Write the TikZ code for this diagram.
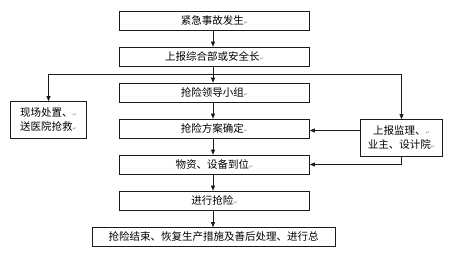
\documentclass[tikz,border=0pt]{standalone}
\usepackage{fontspec}
\usepackage{xcolor}
\usetikzlibrary{arrows.meta,positioning,calc}
\setmainfont{Noto Sans CJK SC}
\newfontfamily\symfont{DejaVu Sans}
\definecolor{ink}{HTML}{1A1A1A}
\definecolor{markgray}{HTML}{8A8A8A}
\newcommand{\pmark}{{\symfont\fontsize{5}{6}\selectfont\textcolor{markgray}{↵}}}
\tikzset{
    every picture/.style={line join=miter},
    flowbox/.style={draw=ink,line width=0.7pt,minimum height=19pt,
      inner sep=1pt,font=\fontsize{10.5}{14}\selectfont,align=center},
    sidebox/.style={flowbox,minimum height=37pt},
    flowarrow/.style={-{Triangle[length=5pt,width=4pt]},draw=ink,
      line width=0.7pt}
}

\begin{document}
\begin{tikzpicture}[x=1pt,y=-1pt]
  \useasboundingbox (0,0) rectangle (450,253);
  % main chain
  \node[flowbox,minimum width=190pt] (start)   at (214.5,20.5)  {紧急事故发生\pmark};
  \node[flowbox,minimum width=190pt] (report)  at (214.5,56.5)  {上报综合部或安全长\pmark};
  \node[flowbox,minimum width=190pt] (lead)    at (214.5,92.5)  {抢险领导小组\pmark};
  \node[flowbox,minimum width=190pt] (plan)    at (214.5,128.5) {抢险方案确定\pmark};
  \node[flowbox,minimum width=190pt] (supply)  at (214.5,164.5) {物资、设备到位\pmark};
  \node[flowbox,minimum width=190pt] (rescue)  at (214.5,200.5) {进行抢险\pmark};
  \node[flowbox,minimum width=243pt] (finish)  at (213.5,237)   {抢险结束、恢复生产措施及善后处理、进行总};
  % side boxes
  \node[sidebox,minimum width=76pt] (site)   at (48.5,120)  {现场处置、\pmark\\送医院抢救\pmark};
  \node[sidebox,minimum width=82pt] (notify) at (401.5,138) {上报监理、\pmark\\业主、设计院\pmark};
  \coordinate (split) at (213,74.5);

  \draw[flowarrow] (start.south -| split) -- (report.north -| split);
  \draw[flowarrow] (report.south -| split) -- (lead.north -| split);
  \draw[flowarrow] (split) -| (site.north);
  \draw[flowarrow] (split) -| (notify.north);
  \draw[flowarrow] (lead.south -| split) -- (plan.north -| split);
  \draw[flowarrow] (notify.west |- 0,130.5) -- (plan.east |- 0,130.5);
  \draw[flowarrow] (notify.south) |- (supply.east);
  \draw[flowarrow] (plan.south -| split) -- (supply.north -| split);
  \draw[flowarrow] (supply.south -| split) -- (rescue.north -| split);
  \draw[flowarrow] (rescue.south -| split) -- (finish.north -| split);
\end{tikzpicture}
\end{document}
